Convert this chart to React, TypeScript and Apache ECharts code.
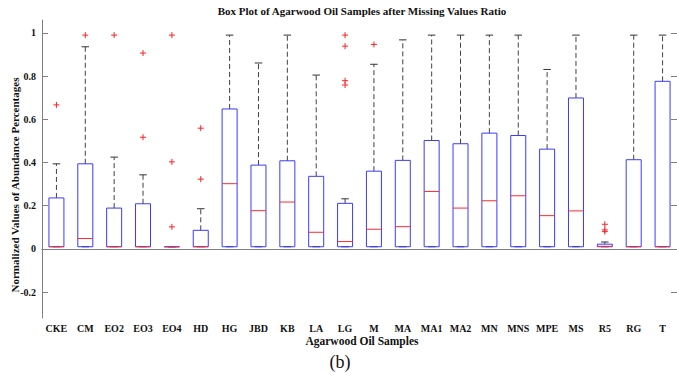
import React, { useEffect, useRef } from "react";
import * as echarts from "echarts";

const categories = ["CKE","CM","EO2","EO3","EO4","HD","HG","JBD","KB","LA","LG","M","MA","MA1","MA2","MN","MNS","MPE","MS","R5","RG","T"];
const lowerWhisker = [0.01,0.01,0.01,0.01,0.01,0.01,0.01,0.01,0.01,0.01,0.01,0.01,0.01,0.01,0.01,0.01,0.01,0.01,0.01,0.01,0.01,0.01];
const q1Values = [0.01,0.01,0.01,0.01,0.01,0.01,0.01,0.01,0.01,0.01,0.01,0.01,0.01,0.01,0.01,0.01,0.01,0.01,0.01,0.01,0.01,0.01];
const medianValues = [0.01,0.048,0.01,0.01,0.01,0.01,0.302,0.177,0.217,0.077,0.034,0.091,0.103,0.266,0.189,0.223,0.246,0.154,0.176,0.012,0.01,0.01];
const q3Values = [0.236,0.394,0.189,0.209,0.01,0.086,0.648,0.388,0.408,0.336,0.211,0.36,0.41,0.502,0.487,0.536,0.525,0.462,0.699,0.022,0.413,0.776];
const upperWhisker = [0.394,0.936,0.425,0.343,0.01,0.186,0.99,0.861,0.99,0.805,0.232,0.855,0.968,0.99,0.99,0.99,0.99,0.831,0.99,0.032,0.99,0.99];
const outlierCategories = ["CKE","CM","EO2","EO3","EO3","EO4","EO4","EO4","HD","HD","LG","LG","LG","LG","M","R5","R5","R5"];
const outlierValues = [0.667,0.99,0.99,0.517,0.907,0.102,0.403,0.99,0.323,0.559,0.759,0.779,0.939,0.99,0.947,0.08,0.088,0.114];
const yTicks = [-0.2,0,0.2,0.4,0.6,0.8,1];

const FONT = '"Liberation Serif", "Times New Roman", serif';
const AXIS_COLOR = "#808080";

export default function App() {
  const ref = useRef<HTMLDivElement>(null);
  useEffect(() => {
    if (!ref.current) return;
    const chart = echarts.init(ref.current, undefined, { renderer: "svg" });
    const boxData = categories.map((_, i) => [i, lowerWhisker[i], q1Values[i], medianValues[i], q3Values[i], upperWhisker[i]]);
    const outData = outlierCategories.map((c, i) => [categories.indexOf(c), outlierValues[i]]);

    const option: any = {
      animation: false,
      grid: { left: 42, top: 20, width: 637, height: 298, containLabel: false },
      xAxis: [
        {
          type: "category",
          data: categories,
          position: "bottom",
          axisLine: { lineStyle: { color: AXIS_COLOR, width: 1 } },
          axisTick: { inside: true, length: 5, alignWithLabel: true, lineStyle: { color: AXIS_COLOR } },
          axisLabel: { color: "#111", fontFamily: FONT, fontWeight: "bold", fontSize: 10, margin: 5, interval: 0 },
          splitLine: { show: false },
        },
        {
          type: "category",
          data: categories,
          position: "top",
          axisLine: { lineStyle: { color: AXIS_COLOR, width: 1 } },
          axisTick: { inside: true, length: 5, alignWithLabel: true, lineStyle: { color: AXIS_COLOR } },
          axisLabel: { show: false },
          splitLine: { show: false },
        },
      ],
      yAxis: [
        {
          type: "value",
          min: -0.32,
          max: 1.06,
          position: "left",
          axisLine: { show: true, lineStyle: { color: AXIS_COLOR, width: 1 } },
          axisTick: { show: true, inside: true, length: 6, customValues: yTicks, lineStyle: { color: AXIS_COLOR } },
          axisLabel: {
            customValues: yTicks,
            color: "#111",
            fontFamily: FONT,
            fontWeight: "bold",
            fontSize: 10,
            margin: 6,
            formatter: (v: number) => String(Math.round(v * 10) / 10),
          },
          splitLine: { show: false },
        },
        {
          type: "value",
          min: -0.32,
          max: 1.06,
          position: "right",
          axisLine: { show: true, lineStyle: { color: AXIS_COLOR, width: 1 } },
          axisTick: { show: true, inside: true, length: 6, customValues: yTicks, lineStyle: { color: AXIS_COLOR } },
          axisLabel: { show: false },
          splitLine: { show: false },
        },
      ],
      series: [
        {
          type: "custom",
          xAxisIndex: 0,
          yAxisIndex: 0,
          data: boxData,
          encode: { x: 0, y: [1, 2, 3, 4, 5] },
          renderItem: (params: any, api: any) => {
            const i = api.value(0);
            const lo = api.coord([i, api.value(1)]);
            const q1 = api.coord([i, api.value(2)]);
            const med = api.coord([i, api.value(3)]);
            const q3 = api.coord([i, api.value(4)]);
            const hi = api.coord([i, api.value(5)]);
            const band = api.size([1, 0])[0];
            const bw = band * 0.52;
            const cw = bw * 0.5;
            const x = q1[0];
            const dash = { stroke: "#404040", lineWidth: 1, lineDash: [5, 3] };
            const cap = { stroke: "#333333", lineWidth: 1 };
            return {
              type: "group",
              children: [
                { type: "line", shape: { x1: x, y1: q3[1], x2: x, y2: hi[1] }, style: dash },
                { type: "line", shape: { x1: x, y1: q1[1], x2: x, y2: lo[1] }, style: dash },
                { type: "line", shape: { x1: x - cw / 2, y1: hi[1], x2: x + cw / 2, y2: hi[1] }, style: cap },
                { type: "line", shape: { x1: x - cw / 2, y1: lo[1], x2: x + cw / 2, y2: lo[1] }, style: cap },
                {
                  type: "rect",
                  shape: { x: x - bw / 2, y: q3[1], width: bw, height: q1[1] - q3[1] },
                  style: { fill: "none", stroke: "#3a3aff", lineWidth: 1 },
                },
                {
                  type: "line",
                  shape: { x1: x - bw / 2, y1: med[1], x2: x + bw / 2, y2: med[1] },
                  style: { stroke: "#ff2a2a", lineWidth: 1 },
                },
              ],
            };
          },
        },
        {
          type: "custom",
          xAxisIndex: 0,
          yAxisIndex: 0,
          data: outData,
          encode: { x: 0, y: 1 },
          renderItem: (params: any, api: any) => {
            const p = api.coord([api.value(0), api.value(1)]);
            const h = 3;
            const st = { stroke: "#ff2020", lineWidth: 1 };
            return {
              type: "group",
              children: [
                { type: "line", shape: { x1: p[0] - h, y1: p[1], x2: p[0] + h, y2: p[1] }, style: st },
                { type: "line", shape: { x1: p[0], y1: p[1] - h, x2: p[0], y2: p[1] + h }, style: st },
              ],
            };
          },
        },
      ],
      graphic: [
        {
          type: "text",
          x: 362,
          y: 11,
          style: {
            text: "Box Plot of Agarwood Oil Samples after Missing Values Ratio",
            font: `bold 11px ${FONT}`,
            fill: "#111",
            align: "center",
            verticalAlign: "middle",
          },
        },
        {
          type: "text",
          x: 15,
          y: 185,
          rotation: Math.PI / 2,
          style: {
            text: "Normalized Values of Abundance Percentages",
            font: `bold 11px ${FONT}`,
            fill: "#111",
            align: "center",
            verticalAlign: "middle",
          },
        },
        {
          type: "text",
          x: 362,
          y: 341,
          style: {
            text: "Agarwood Oil Samples",
            font: `bold 11.5px ${FONT}`,
            fill: "#111",
            align: "center",
            verticalAlign: "middle",
          },
        },
        {
          type: "text",
          x: 340,
          y: 362,
          style: {
            text: "(b)",
            font: `18px ${FONT}`,
            fill: "#111",
            align: "center",
            verticalAlign: "middle",
          },
        },
      ],
    };
    chart.setOption(option);
    return () => chart.dispose();
  }, []);
  return (
    <div
      ref={ref}
      style={{ position: "fixed", left: 0, top: 0, width: 677, height: 377, background: "#fff" }}
    />
  );
}
